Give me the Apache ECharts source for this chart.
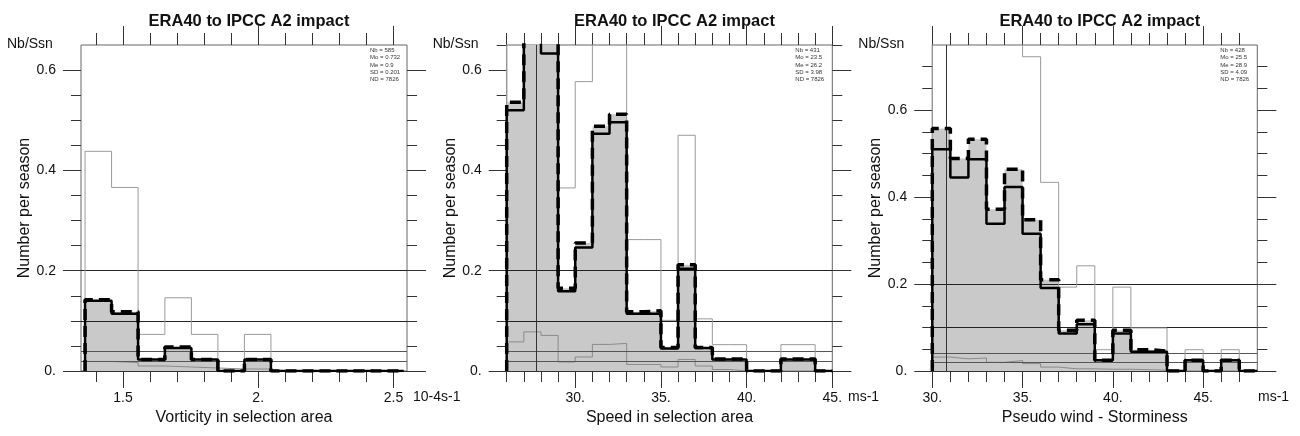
<!DOCTYPE html>
<html><head><meta charset="utf-8">
<script src="https://cdn.jsdelivr.net/npm/echarts@6/dist/echarts.min.js"></script>
<style>html,body{margin:0;padding:0;background:#fff}#c{width:1300px;height:436px}</style>
</head><body><div id="c"></div>
<script>
// ---------- data ----------
const titleText = 'ERA40 to IPCC A2 impact';
const xNames = ['Vorticity in selection area', 'Speed in selection area', 'Pseudo wind - Storminess'];
const xUnits = ['10-4s-1', 'ms-1', 'ms-1'];
const yName = 'Number per season';
const yUnit = 'Nb/Ssn';
const refLevels = [0.2, 0.1, 0.04, 0.02];

// panel 1 : vorticity
const p1Edges = [1.360, 1.458, 1.556, 1.655, 1.753, 1.851, 1.949, 2.047, 2.146, 2.244, 2.342, 2.440, 2.538];
const p1Dashed = [0.142, 0.118, 0.023, 0.048, 0.023, 0, 0.023, 0, 0, 0, 0, 0];
const p1Solid = [0.140, 0.114, 0.023, 0.046, 0.023, 0, 0.023, 0, 0, 0, 0, 0];
const p1GreyTop = [0.438, 0.366, 0.073, 0.146, 0.073, 0, 0.073, 0, 0, 0, 0, 0];
const p1GreyLow = [0.019, 0.017, 0.010, 0.008, 0.006, 0.004, 0.004, 0, 0, 0, 0, 0];
const p1XMajor = [1.5, 2.0, 2.5];
const p1XMinor = [1.4, 1.6, 1.7, 1.8, 1.9, 2.1, 2.2, 2.3, 2.4];
const p1XLabels = ['1.5', '2.', '2.5'];
const p1Stats = ['Nb = 585', 'Mo = 0.732', 'Me = 0.9', 'SD = 0.201', 'ND = 7826'];
const p1VLines = [];

// panel 2 : speed
const p2Edges = [26, 27, 28, 29, 30, 31, 32, 33, 34, 35, 36, 37, 38, 39, 40, 41, 42, 43, 44, 45];
const p2Dashed = [0.536, 0.80, 0.70, 0.165, 0.255, 0.488, 0.512, 0.118, 0.120, 0.047, 0.212, 0.047, 0.024, 0.024, 0, 0, 0.024, 0.024, 0];
const p2Solid = [0.520, 0.76, 0.633, 0.159, 0.246, 0.473, 0.496, 0.114, 0.114, 0.045, 0.204, 0.046, 0.023, 0.023, 0, 0, 0.023, 0.023, 0];
const p2GreyTop = [0.90, 0.95, 0.85, 0.365, 0.577, 0.75, 0.70, 0.262, 0.262, 0.101, 0.470, 0.104, 0.0525, 0.0525, 0, 0, 0.0525, 0.0525, 0];
const p2GreyLow = [0.058, 0.078, 0.071, 0.018, 0.028, 0.053, 0.055, 0.013, 0.013, 0.008, 0.023, 0.010, 0.003, 0, 0, 0, 0, 0, 0];
const p2XMajor = [30, 35, 40, 45];
const p2XMinor = [26, 27, 28, 29, 31, 32, 33, 34, 36, 37, 38, 39, 41, 42, 43, 44];
const p2XLabels = ['30.', '35.', '40.', '45.'];
const p2Stats = ['Nb = 431', 'Mo = 23.5', 'Me = 26.2', 'SD = 3.98', 'ND = 7826'];
const p2VLines = [27.7];

// panel 3 : pseudo wind
const p3Edges = [30, 31, 32, 33, 34, 35, 36, 37, 38, 39, 40, 41, 42, 43, 44, 45, 46, 47, 48];
const p3Dashed = [0.558, 0.489, 0.533, 0.372, 0.464, 0.348, 0.210, 0.094, 0.117, 0.025, 0.094, 0.049, 0.046, 0, 0.025, 0, 0.025, 0];
const p3Solid = [0.510, 0.445, 0.487, 0.339, 0.4235, 0.316, 0.191, 0.086, 0.1075, 0.0246, 0.086, 0.044, 0.044, 0, 0.0246, 0, 0.0246, 0];
const p3GreyTop = [0.95, 0.90, 0.90, 0.85, 0.80, 0.723, 0.434, 0.193, 0.242, 0.049, 0.193, 0.099, 0.099, 0, 0.049, 0, 0.049, 0];
const p3GreyLow = [0.032, 0.028, 0.030, 0.020, 0.024, 0.017, 0.009, 0.005, 0.005, 0.004, 0.004, 0.003, 0.002, 0, 0, 0, 0, 0];
const p3XMajor = [30, 35, 40, 45];
const p3XMinor = [31, 32, 33, 34, 36, 37, 38, 39, 41, 42, 43, 44, 46, 47];
const p3XLabels = ['30.', '35.', '40.', '45.'];
const p3Stats = ['Nb = 428', 'Mo = 25.5', 'Me = 28.9', 'SD = 4.09', 'ND = 7826'];
const p3VLines = [30.8];

const yMajor = [0, 0.2, 0.4, 0.6];
const yLabels = ['0.', '0.2', '0.4', '0.6'];
const yMinorA = [0.05, 0.1, 0.15, 0.25, 0.3, 0.35, 0.45, 0.5, 0.55];
const yMinorB = [0.05, 0.1, 0.15, 0.25, 0.3, 0.35, 0.45, 0.5, 0.55, 0.65, 0.7];

// ---------- layout / style ----------
const FONT = 'Liberation Sans, Arial, Helvetica, sans-serif';
const TXT = '#111';
const panels = [
  {left: 81, width: 326, xmin: 1.345, xmax: 2.55, ymax: 0.65, edges: p1Edges, dashed: p1Dashed, solid: p1Solid, gTop: p1GreyTop, gLow: p1GreyLow, xMaj: p1XMajor, xMin: p1XMinor, xLab: p1XLabels, yMin: yMinorA, stats: p1Stats, vl: p1VLines, unitX: 413},
  {left: 506.7, width: 325.6, xmin: 26, xmax: 45, ymax: 0.65, edges: p2Edges, dashed: p2Dashed, solid: p2Solid, gTop: p2GreyTop, gLow: p2GreyLow, xMaj: p2XMajor, xMin: p2XMinor, xLab: p2XLabels, yMin: yMinorA.concat([0.65]), stats: p2Stats, vl: p2VLines, unitX: 848},
  {left: 932.3, width: 325, xmin: 30, xmax: 48, ymax: 0.75, edges: p3Edges, dashed: p3Dashed, solid: p3Solid, gTop: p3GreyTop, gLow: p3GreyLow, xMaj: p3XMajor, xMin: p3XMinor, xLab: p3XLabels, yMin: yMinorB, stats: p3Stats, vl: p3VLines, unitX: 1258}
];
const TOP = 45, H = 326;

function lab(list, labels) {
  return function (v) {
    for (let i = 0; i < list.length; i++) if (Math.abs(list[i] - v) < 1e-9) return labels[i];
    return '';
  };
}
function stepData(edges, vals) {
  const d = [[edges[0], 0]];
  vals.forEach((v, i) => d.push([edges[i], v]));
  d.push([edges[edges.length - 1], vals[vals.length - 1]]);
  d.push([edges[edges.length - 1], 0]);
  return d;
}

const grid = [], xAxis = [], yAxis = [], series = [], title = [], graphic = [];
panels.forEach((p, gi) => {
  grid.push({left: p.left, top: TOP, width: p.width, height: H, show: true, borderColor: '#666', borderWidth: 1, backgroundColor: 'transparent'});
  title.push({text: titleText, left: p.left + p.width / 2, top: 8, textAlign: 'center',
    textStyle: {fontFamily: FONT, fontSize: 16.5, fontWeight: 'bold', color: TXT}});
  const xb = {type: 'value', gridIndex: gi, min: p.xmin, max: p.xmax, splitLine: {show: false}};
  xAxis.push(Object.assign({}, xb, {position: 'bottom',
    axisLine: {show: true, onZero: false, lineStyle: {color: '#333', width: 1}},
    axisTick: {show: true, inside: false, length: 17, customValues: p.xMaj, lineStyle: {color: '#333'}},
    axisLabel: {show: true, customValues: p.xMaj, formatter: lab(p.xMaj, p.xLab), margin: 20, fontSize: 14, fontFamily: FONT, color: TXT},
    name: xNames[gi], nameLocation: 'middle', nameGap: 37, nameTextStyle: {fontSize: 16, fontFamily: FONT, color: TXT}}));
  xAxis.push(Object.assign({}, xb, {position: 'bottom', axisLine: {show: false, onZero: false},
    axisTick: {show: true, inside: false, length: 11, customValues: p.xMin, lineStyle: {color: '#333'}}, axisLabel: {show: false}}));
  xAxis.push(Object.assign({}, xb, {position: 'top', axisLine: {show: false, onZero: false},
    axisTick: {show: true, inside: false, length: 19, customValues: p.xMaj, lineStyle: {color: '#333'}}, axisLabel: {show: false}}));
  xAxis.push(Object.assign({}, xb, {position: 'top', axisLine: {show: false, onZero: false},
    axisTick: {show: true, inside: false, length: 12, customValues: p.xMin, lineStyle: {color: '#333'}}, axisLabel: {show: false}}));

  const yb = {type: 'value', gridIndex: gi, min: 0, max: p.ymax, splitLine: {show: false}};
  yAxis.push(Object.assign({}, yb, {position: 'left',
    axisLine: {show: false, onZero: false},
    axisTick: {show: true, inside: false, length: 18, customValues: yMajor, lineStyle: {color: '#333'}},
    axisLabel: {show: true, customValues: yMajor, formatter: lab(yMajor, yLabels), margin: 25, fontSize: 14, fontFamily: FONT, color: TXT},
    name: yName, nameLocation: 'middle', nameGap: 47, nameTextStyle: {fontSize: 16, fontFamily: FONT, color: TXT}}));
  yAxis.push(Object.assign({}, yb, {position: 'left', axisLine: {show: false, onZero: false},
    axisTick: {show: true, inside: false, length: 10, customValues: p.yMin, lineStyle: {color: '#333'}}, axisLabel: {show: false}}));
  yAxis.push(Object.assign({}, yb, {position: 'right', axisLine: {show: false, onZero: false},
    axisTick: {show: true, inside: false, length: 19, customValues: yMajor, lineStyle: {color: '#333'}}, axisLabel: {show: false}}));
  yAxis.push(Object.assign({}, yb, {position: 'right', axisLine: {show: false, onZero: false},
    axisTick: {show: true, inside: false, length: 10, customValues: p.yMin, lineStyle: {color: '#333'}}, axisLabel: {show: false}}));

  const xi = gi * 4, yi = gi * 4;
  const base = {type: 'line', xAxisIndex: xi, yAxisIndex: yi, step: 'end', showSymbol: false, symbol: 'none', silent: true, animation: false, clip: true};
  // fill
  series.push(Object.assign({}, base, {data: stepData(p.edges, p.dashed), z: 2,
    lineStyle: {width: 0, opacity: 0}, areaStyle: {color: '#c9c9c9', opacity: 1}}));
  // low grey + reference lines
  const ml = refLevels.map((v, k) => ({yAxis: v, lineStyle: {color: k < 2 ? '#222' : '#555', width: 1, type: 'solid'}}));
  p.vl.forEach(v => ml.push({xAxis: v, lineStyle: {color: '#333', width: 1, type: 'solid'}}));
  series.push(Object.assign({}, base, {data: stepData(p.edges, p.gLow), z: 3,
    lineStyle: {color: '#8a8a8a', width: 1},
    markLine: {silent: true, symbol: ['none', 'none'], label: {show: false}, animation: false, z: 4, data: ml}}));
  series.push(Object.assign({}, base, {data: stepData(p.edges, p.gTop), z: 5,
    lineStyle: {color: '#9a9a9a', width: 1}}));
  series.push(Object.assign({}, base, {data: stepData(p.edges, p.solid), z: 6,
    lineStyle: {color: '#000', width: 2.5}}));
  series.push(Object.assign({}, base, {data: stepData(p.edges, p.dashed), z: 7,
    lineStyle: {color: '#000', width: 3.5, type: [11, 6], cap: 'butt'}}));

  // texts
  graphic.push({type: 'text', left: p.left - 25 - 49, top: TOP - 8, style: {text: yUnit, font: '14px ' + FONT, fill: TXT}});
  graphic.push({type: 'text', left: p.unitX, top: 390, style: {text: xUnits[gi], font: '14px ' + FONT, fill: TXT}});
  graphic.push({type: 'text', left: p.left + p.width - 37, top: TOP + 2,
    style: {text: p.stats.join('\n'), font: '6px ' + FONT, lineHeight: 7.2, fill: '#333'}});
});

const chart = echarts.init(document.getElementById('c'), null, {renderer: 'canvas'});
chart.setOption({animation: false, backgroundColor: '#fff', title, grid, xAxis, yAxis, series, graphic});
</script></body></html>
